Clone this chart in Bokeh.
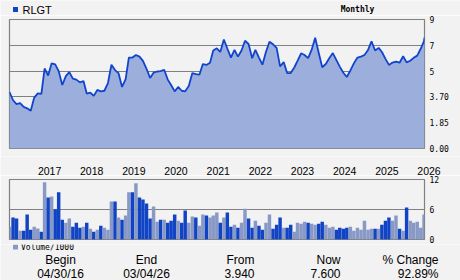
import pandas as pd
from bokeh.plotting import figure
from bokeh.models import ColumnDataSource, Range1d, FixedTicker, CustomJSTransform
from bokeh.core.properties import value
from bokeh.transform import transform
from bokeh.layouts import column
from bokeh.embed import file_html
from bokeh.resources import INLINE

SYMBOL = "RLGT"
PERIOD = "Monthly"

# monthly closes, Apr 2016 .. Mar 2026 (last point = 03/04/26)
price = [3.94, 3.46, 3.18, 3.25, 2.98, 2.88, 2.70, 3.65, 3.88, 3.85,
         5.20, 4.78, 5.60, 5.52, 5.00, 4.30, 4.75, 4.95, 4.62, 4.57,
         4.43, 4.50, 3.87, 3.92, 3.75, 4.05, 3.98, 4.01, 4.40, 5.50,
         5.08, 4.90, 4.20, 4.60, 6.05, 6.05, 6.25, 6.12, 5.79, 5.18,
         4.65, 4.92, 4.98, 5.00, 5.10, 4.57, 4.30, 3.98, 4.20, 4.01,
         3.98, 4.25, 4.90, 4.85, 4.82, 5.55, 5.48, 5.65, 6.60, 6.77,
         6.48, 7.45, 6.75, 6.05, 6.65, 6.12, 6.60, 7.35, 7.10, 6.00,
         6.64, 6.05, 5.50, 6.50, 7.28, 7.08, 6.80, 5.36, 5.70, 4.90,
         4.90, 5.28, 5.80, 6.38, 6.25, 6.00, 6.64, 7.58, 6.40, 5.30,
         5.55, 6.00, 6.40, 5.85, 5.35, 4.92, 4.70, 5.05, 5.60, 6.05,
         6.12, 6.25, 6.64, 7.30, 6.60, 6.80, 6.48, 5.95, 5.48, 5.66,
         5.74, 5.65, 6.15, 5.68, 5.80, 6.03, 6.20, 6.75, 7.33, 7.60]

# monthly volume / 1000, Apr 2016 .. Feb 2026
volume = [2.56, 4.38, 4.18, 1.75, 1.75, 4.98, 1.95, 2.56, 2.22, 1.55,
          11.45, 8.42, 8.62, 6.06, 9.43, 3.97, 3.37, 4.18, 2.56, 3.37,
          2.36, 2.56, 3.37, 2.15, 1.55, 1.95, 2.76, 2.36, 1.95, 7.60,
          7.60, 4.38, 3.97, 4.78, 9.43, 9.43, 11.25, 8.42, 8.00, 7.20,
          4.18, 6.60, 3.57, 3.97, 3.97, 3.37, 3.77, 4.98, 3.77, 3.37,
          5.79, 3.37, 4.58, 4.38, 2.76, 4.98, 4.78, 4.38, 4.78, 5.39,
          3.37, 4.38, 5.39, 2.56, 2.96, 2.36, 3.37, 6.13, 4.18, 2.36,
          3.77, 2.76, 1.95, 3.37, 4.98, 2.15, 2.96, 4.38, 2.36, 2.36,
          2.96, 1.55, 3.37, 3.17, 3.57, 3.37, 3.17, 2.96, 3.17, 3.57,
          2.96, 2.36, 2.56, 1.95, 2.36, 2.15, 2.36, 2.56, 1.75, 2.36,
          1.95, 3.77, 1.95, 2.15, 2.15, 2.15, 2.96, 3.77, 4.38, 3.77,
          4.78, 2.15, 1.75, 6.40, 3.77, 3.37, 3.57, 2.36, 4.98]

# L = up month (light bar), D = down month (dark bar)
vol_dir = ("LDDLDDDLLD" "LDLDDDLLDD" "DLDLDLDLLL" "DLDLLDLDDD"
           "DLLDLDDDLD" "DLLDLLDLLL" "DLDDLDLLDD" "LDDLLDDDLD"
           "DLLLLDLLDD" "LLLDDDDLLL" "LLLLDLDDDL" "LDLDLLLLL")

dates = list(pd.date_range("2016-04-30", periods=119, freq="ME")) + [pd.Timestamp("2026-03-04")]
vol_dates = dates[:119]

price_ticks = [0.0, 1.85, 3.70, 5.0, 7.0, 9.0]
price_tick_labels = ["0.00", "1.85", "3.70", "5", "7", "9"]
vol_ticks = [0, 6, 12]
years = [2017, 2018, 2019, 2020, 2021, 2022, 2023, 2024, 2025, 2026]

summary_heads = ["Begin", "End", "From", "Now", "% Change"]
summary_vals = ["04/30/16", "03/04/26", "3.940", "7.600", "92.89%"]
VOL_LABEL = "Volume/1000"

BG = "#f2f2f2"
GRID = "#808080"
FILL = "#9caedc"
LINE = "#1144cc"
DARK = "#1144c4"
LIGHT = "#8899c6"
MONO = "DejaVu Sans Mono"
SANS = "Liberation Sans"
W = 460
FRAME_L, FRAME_R = 9, 424


def strip(height, top, x_range=None):
    """A text strip whose frame fills the whole strip; y in page pixels."""
    f = figure(width=W, height=height,
               x_range=x_range if x_range is not None else Range1d(0, W),
               y_range=Range1d(top + height, top),
               x_axis_location=None, y_axis_location=None, title=None,
               toolbar_location=None, output_backend="svg", min_border=0,
               background_fill_color=BG, border_fill_color=BG, outline_line_color=None)
    f.grid.visible = False
    return f


def style_axis(ax):
    ax.axis_line_color = None
    ax.major_tick_line_color = None
    ax.minor_tick_line_color = None
    ax.major_tick_out = 0
    ax.major_tick_in = 0
    ax.major_label_standoff = 5
    ax.major_label_text_font = MONO
    ax.major_label_text_font_size = "8px"
    ax.major_label_text_color = "black"


xr = Range1d(dates[0], dates[-1])

# ---------- header ----------
h = strip(15, 0)
h.scatter(x=[15], y=[9], marker="square", size=5, color=DARK, line_color=None)
h.text(x=[22], y=[9.5], text=[SYMBOL], text_font=value(SANS), text_font_size=value("11px"),
       text_align="left", text_baseline="middle", text_color="black")
h.text(x=[357], y=[9], text=[PERIOD], text_font=value(MONO), text_font_size=value("8px"),
       text_font_style="bold", text_align="center", text_baseline="middle", text_color="black")

# ---------- price panel ----------
p = figure(width=W, height=141, x_axis_type="datetime", x_range=xr,
           y_range=Range1d(0, 5), x_axis_location=None, y_axis_location="right", title=None,
           toolbar_location=None, output_backend="svg",
           min_border_left=FRAME_L, min_border_right=W - FRAME_R, min_border_top=4, min_border_bottom=8,
           background_fill_color=BG, border_fill_color=BG,
           outline_line_color=GRID, outline_line_width=1.2)

ymap = CustomJSTransform(args=dict(ticks=price_ticks), v_func="""
const out = new Array(xs.length);
for (let k = 0; k < xs.length; k++) {
  const v = xs[k];
  let j = 0;
  while (j < ticks.length - 2 && v > ticks[j + 1]) j++;
  out[k] = j + (v - ticks[j]) / (ticks[j + 1] - ticks[j]);
}
return out;
""", func="""
let j = 0;
while (j < ticks.length - 2 && x > ticks[j + 1]) j++;
return j + (x - ticks[j]) / (ticks[j + 1] - ticks[j]);
""")

src = ColumnDataSource(dict(date=dates, price=price))
p.varea(x="date", y1=0, y2=transform("price", ymap), source=src, fill_color=FILL)
p.line(x="date", y=transform("price", ymap), source=src, line_color=LINE, line_width=1.8)

idx = list(range(len(price_ticks)))
p.yaxis.ticker = FixedTicker(ticks=idx)
p.yaxis.major_label_overrides = {i: s for i, s in zip(idx, price_tick_labels)}
p.ygrid.ticker = FixedTicker(ticks=idx)
p.xgrid.visible = False
p.ygrid.grid_line_color = GRID
p.ygrid.grid_line_width = 1.2
style_axis(p.yaxis[0])

# ---------- year labels strip (same date scale as the panels) ----------
d0 = dates[0].value / 1e6
d1 = dates[-1].value / 1e6
ms_per_px = (d1 - d0) / (FRAME_R - FRAME_L)
yl = strip(19, 156, Range1d(d0 - FRAME_L * ms_per_px, d1 + (W - FRAME_R) * ms_per_px))
yl.text(x=[pd.Timestamp(f"{y}-01-01").value / 1e6 for y in years], y=[170] * len(years),
        text=[str(y) for y in years], text_font=value(SANS), text_font_size=value("10.5px"),
        text_align="left", text_baseline="middle", text_color="black")

# ---------- volume panel ----------
v = figure(width=W, height=69, x_axis_type="datetime", x_range=xr,
           y_range=Range1d(0, 12), x_axis_location=None, y_axis_location="right", title=None,
           toolbar_location=None, output_backend="svg",
           min_border_left=FRAME_L, min_border_right=W - FRAME_R, min_border_top=4, min_border_bottom=5,
           background_fill_color=BG, border_fill_color=BG,
           outline_line_color=GRID, outline_line_width=1.2)

vsrc = ColumnDataSource(dict(date=vol_dates, vol=volume,
                             color=[LIGHT if d == "L" else DARK for d in vol_dir]))
v.vbar(x="date", top="vol", width=30 * 24 * 3600 * 1000, source=vsrc,
       fill_color="color", line_color=None)
v.yaxis.ticker = FixedTicker(ticks=vol_ticks)
v.ygrid.ticker = FixedTicker(ticks=vol_ticks)
v.xgrid.visible = False
v.ygrid.grid_line_color = GRID
v.ygrid.grid_line_width = 1.2
style_axis(v.yaxis[0])

# ---------- legend + summary ----------
s = strip(36, 244)
s.scatter(x=[15], y=[246.5], marker="square", size=5, color=LIGHT, line_color=None)
s.text(x=[20.5], y=[247], text=[VOL_LABEL], text_font=value(MONO), text_font_size=value("8px"),
       text_align="left", text_baseline="middle", text_color="black")
col_x = [60, 146, 254, 340, 438]
col_align = ["center", "center", "right", "right", "right"]
for cx, al, hd, val in zip(col_x, col_align, summary_heads, summary_vals):
    s.text(x=[cx], y=[259.5], text=[hd], text_font=value(SANS), text_font_size=value("12px"),
           text_align=al, text_baseline="middle", text_color="black")
    s.text(x=[cx], y=[273], text=[val], text_font=value(SANS), text_font_size=value("12px"),
           text_align=al, text_baseline="middle", text_color="black")

# each panel in its own column so Bokeh does not align the strips' frames to the panels'
layout = column(column(h), column(p), column(yl), column(v), column(s), spacing=0)
open("out.html", "w").write(file_html(layout, INLINE))
